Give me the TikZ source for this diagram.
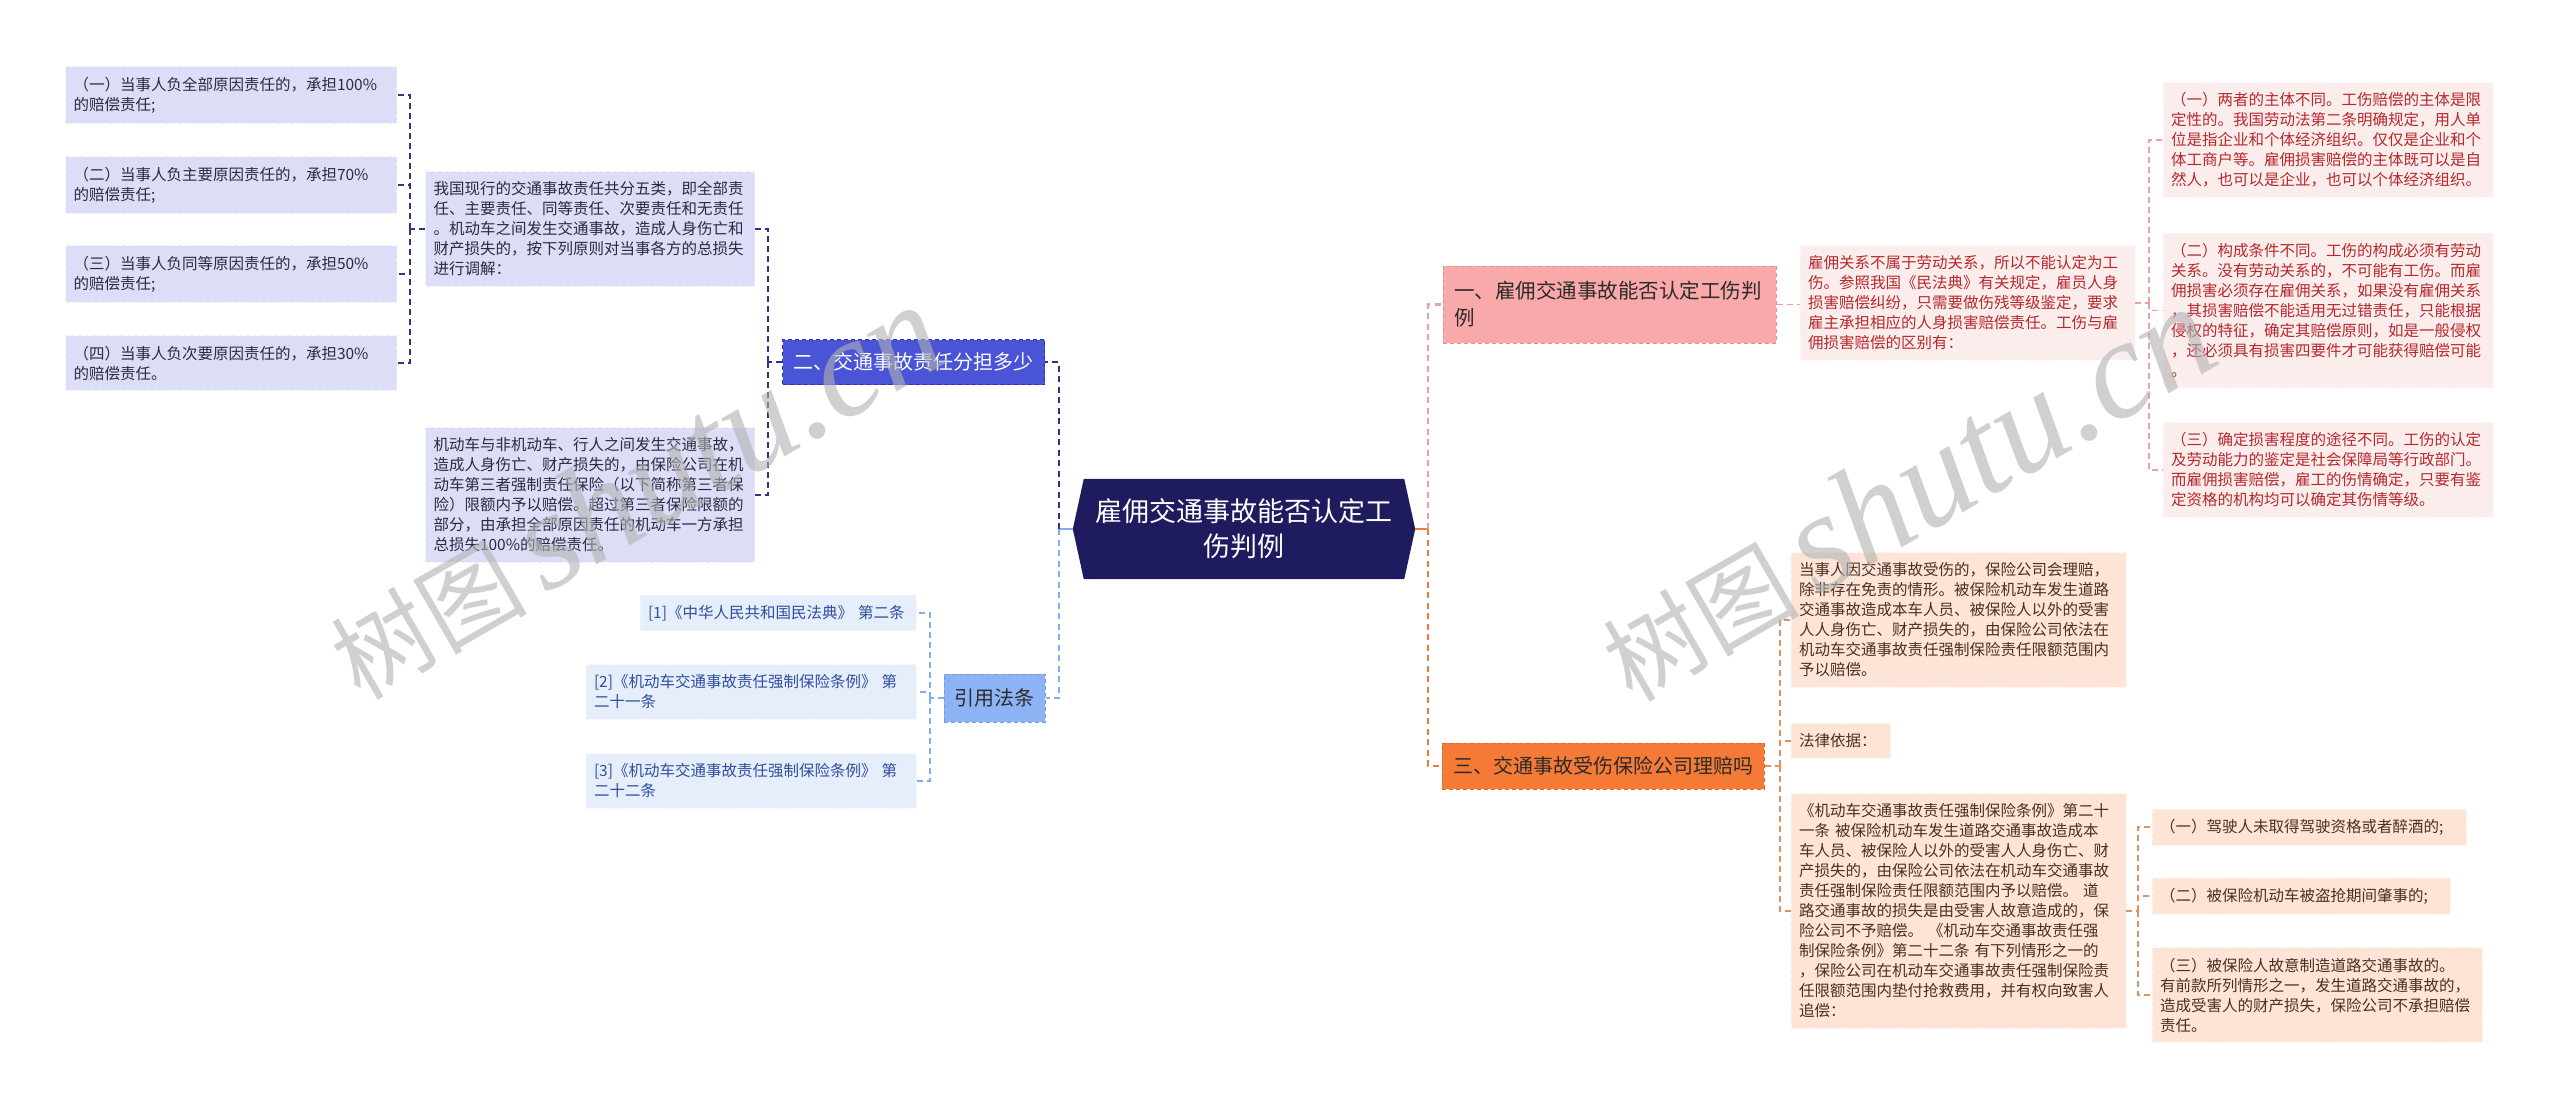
\documentclass[tikz,border=0pt]{standalone}
\usepackage{fontspec}
\setmainfont{Noto Sans CJK SC}
\newfontfamily\wmfont{Liberation Serif}
\usetikzlibrary{backgrounds}
\definecolor{lavfill}{HTML}{DCDDF7}
\definecolor{lavtext}{HTML}{2A2A42}
\definecolor{bluebr}{HTML}{4A54D6}
\definecolor{blueedge}{HTML}{2F36A8}
\definecolor{rootfill}{HTML}{1E1B5E}
\definecolor{citefill}{HTML}{E6EEFC}
\definecolor{citetext}{HTML}{2E4E9E}
\definecolor{citebr}{HTML}{8DB3F5}
\definecolor{citeedge}{HTML}{6F9BE8}
\definecolor{pinkbr}{HTML}{F9A9A9}
\definecolor{pinkedge}{HTML}{E88F8F}
\definecolor{pinkfill}{HTML}{FCEDED}
\definecolor{redtext}{HTML}{B5282C}
\definecolor{orangebr}{HTML}{F57A36}
\definecolor{orangeedge}{HTML}{E0662A}
\definecolor{peachfill}{HTML}{FDE4D6}
\definecolor{browntext}{HTML}{4B3022}
\definecolor{navyline}{HTML}{2E3384}
\definecolor{lbline}{HTML}{85ACF0}
\definecolor{pinkline}{HTML}{E9A3A3}
\definecolor{orangeline}{HTML}{EE7B3B}
\definecolor{peachline}{HTML}{E0935F}
\definecolor{darktext}{HTML}{2B2B2B}
\tikzset{
  txtbox/.style={inner xsep=8pt, inner ysep=10pt, align=left,
    font=\fontsize{15.5pt}{20pt}\selectfont, line width=0.8pt,
    dash pattern=on 4pt off 3pt},
  lavbox/.style={txtbox, fill=lavfill, draw=lavfill!55!white, text=lavtext},
  citebox/.style={txtbox, fill=citefill, draw=citefill!50!white, text=citetext},
  pinkbox/.style={txtbox, fill=pinkfill, draw=pinkfill!50!white, text=redtext},
  peachbox/.style={txtbox, fill=peachfill, draw=peachfill!50!white, text=browntext},
  branchbox/.style={inner xsep=11pt, inner ysep=8pt, align=left,
    font=\fontsize{20pt}{27pt}\selectfont, line width=1pt,
    dash pattern=on 4pt off 3pt},
  conn/.style={line width=2.2pt, dash pattern=on 6pt off 4.5pt},
  subconn/.style={line width=1.4pt, dash pattern=on 6pt off 4pt},
  stub/.style={line width=2.2pt},
  wm/.style={text=black!30, text opacity=0.6, rotate=30, anchor=base west, inner sep=0pt}
}
\begin{document}
\begin{tikzpicture}[x=1pt,y=-1pt]
\useasboundingbox (0,0) rectangle (2560,1111);

% root
\node[minimum width=342pt, minimum height=100pt, inner sep=0pt, align=center,
  text=white, font=\fontsize{27pt}{35pt}\selectfont] (root) at (1244,529)
  {雇佣交通事故能否认定工\\伤判例};
\begin{scope}[on background layer]
\fill[white] (0,0) rectangle (2560,1111);
\fill[rootfill] (root.west) -- ([xshift=11pt]root.north west) -- ([xshift=-11pt]root.north east)
  -- (root.east) -- ([xshift=-11pt]root.south east) -- ([xshift=11pt]root.south west) -- cycle;
\end{scope}

% left branch 2
\node[branchbox, fill=bluebr, draw=blueedge, text=white, minimum height=45pt] (b2) at (913.5,362) {二、交通事故责任分担多少};
\node[lavbox, text width=313pt] (m1) at (590,229) {我国现行的交通事故责任共分五类，即全部责\\任、主要责任、同等责任、次要责任和无责任\\。机动车之间发生交通事故，造成人身伤亡和\\财产损失的，按下列原则对当事各方的总损失\\进行调解：};
\node[lavbox, text width=313pt] (m2) at (590,495) {机动车与非机动车、行人之间发生交通事故，\\造成人身伤亡、财产损失的，由保险公司在机\\动车第三者强制责任保险（以下简称第三者保\\险）限额内予以赔偿。超过第三者保险限额的\\部分，由承担全部原因责任的机动车一方承担\\总损失100\%的赔偿责任。};
\node[lavbox, text width=315pt] (l1) at (231,95) {（一）当事人负全部原因责任的，承担100\%\\的赔偿责任;};
\node[lavbox, text width=315pt] (l2) at (231,185) {（二）当事人负主要原因责任的，承担70\%\\的赔偿责任;};
\node[lavbox, text width=315pt] (l3) at (231,274) {（三）当事人负同等原因责任的，承担50\%\\的赔偿责任;};
\node[lavbox, text width=315pt] (l4) at (231,363) {（四）当事人负次要原因责任的，承担30\%\\的赔偿责任。};

% citations
\node[branchbox, fill=citebr, draw=citeedge, text=darktext, minimum width=101pt, minimum height=48pt, inner xsep=0pt, align=center] (cite) at (994.5,698) {引用法条};
\node[citebox, text width=260pt] (c1) at (778,613) {[1]《中华人民共和国民法典》 第二条};
\node[citebox, text width=314pt] (c2) at (751,692) {[2]《机动车交通事故责任强制保险条例》 第\\二十一条};
\node[citebox, text width=314pt] (c3) at (751,781) {[3]《机动车交通事故责任强制保险条例》 第\\二十二条};

% right branch 1
\node[branchbox, fill=pinkbr, draw=pinkedge, text=darktext, text width=311pt, minimum height=77pt, font=\fontsize{20.5pt}{27pt}\selectfont] (b1) at (1609.5,304.5) {一、雇佣交通事故能否认定工伤判\\例};
\node[pinkbox, text width=319pt] (r1) at (1967.5,303) {雇佣关系不属于劳动关系，所以不能认定为工\\伤。参照我国《民法典》有关规定，雇员人身\\损害赔偿纠纷，只需要做伤残等级鉴定，要求\\雇主承担相应的人身损害赔偿责任。工伤与雇\\佣损害赔偿的区别有：};
\node[pinkbox, text width=314pt] (r1a) at (2328,140) {（一）两者的主体不同。工伤赔偿的主体是限\\定性的。我国劳动法第二条明确规定，用人单\\位是指企业和个体经济组织。仅仅是企业和个\\体工商户等。雇佣损害赔偿的主体既可以是自\\然人，也可以是企业，也可以个体经济组织。};
\node[pinkbox, text width=314pt] (r1b) at (2328,310.5) {（二）构成条件不同。工伤的构成必须有劳动\\关系。没有劳动关系的，不可能有工伤。而雇\\佣损害必须存在雇佣关系，如果没有雇佣关系\\，其损害赔偿不能适用无过错责任，只能根据\\侵权的特征，确定其赔偿原则，如是一般侵权\\，还必须具有损害四要件才可能获得赔偿可能\\。};
\node[pinkbox, text width=314pt] (r1c) at (2328,470) {（三）确定损害程度的途径不同。工伤的认定\\及劳动能力的鉴定是社会保障局等行政部门。\\而雇佣损害赔偿，雇工的伤情确定，只要有鉴\\定资格的机构均可以确定其伤情等级。};

% right branch 3
\node[branchbox, fill=orangebr, draw=orangeedge, text=darktext, minimum width=320pt, minimum height=46pt] (b3) at (1603,766) {三、交通事故受伤保险公司理赔吗};
\node[peachbox, text width=319pt] (r3a) at (1958.5,620) {当事人因交通事故受伤的，保险公司会理赔，\\除非存在免责的情形。被保险机动车发生道路\\交通事故造成本车人员、被保险人以外的受害\\人人身伤亡、财产损失的，由保险公司依法在\\机动车交通事故责任强制保险责任限额范围内\\予以赔偿。};
\node[peachbox, text width=83pt] (r3b) at (1840.5,741) {法律依据：};
\node[peachbox, text width=319pt] (r3c) at (1958.5,911) {《机动车交通事故责任强制保险条例》第二十\\一条 被保险机动车发生道路交通事故造成本\\车人员、被保险人以外的受害人人身伤亡、财\\产损失的，由保险公司依法在机动车交通事故\\责任强制保险责任限额范围内予以赔偿。 道\\路交通事故的损失是由受害人故意造成的，保\\险公司不予赔偿。 《机动车交通事故责任强\\制保险条例》第二十二条 有下列情形之一的\\，保险公司在机动车交通事故责任强制保险责\\任限额范围内垫付抢救费用，并有权向致害人\\追偿：};
\node[peachbox, text width=298pt] (r3c1) at (2309,827) {（一）驾驶人未取得驾驶资格或者醉酒的;};
\node[peachbox, text width=282pt] (r3c2) at (2301,896) {（二）被保险机动车被盗抢期间肇事的;};
\node[peachbox, text width=314pt] (r3c3) at (2317,995) {（三）被保险人故意制造道路交通事故的。\\有前款所列情形之一，发生道路交通事故的，\\造成受害人的财产损失，保险公司不承担赔偿\\责任。};

% junction points
\coordinate (jl) at (1059,529);
\coordinate (jr) at (1428,529);
\coordinate (jb2) at (768,362);
\coordinate (jm1) at (410,229);
\coordinate (jc) at (930,698);
\coordinate (jr1) at (2149,303);
\coordinate (jb3) at (1780,766);
\coordinate (jr3) at (2138,911);

% connectors from root
\draw[stub, lbline] (root.west) -- (jl);
\draw[stub, orangeline] (root.east) -- (jr);
\draw[conn, navyline] (jl) |- (b2.east);
\draw[conn, lbline] (jl) |- (cite.east);
\draw[conn, pinkline] (jr) |- (b1.west);
\draw[conn, orangeline] (jr) |- (b3.west);

% branch 2 subtree
\draw[subconn, navyline] (b2.west) -- (jb2);
\draw[subconn, navyline] (jb2) |- (m1.east);
\draw[subconn, navyline] (jb2) |- (m2.east);
\draw[subconn, navyline] (m1.west) -- (jm1);
\draw[subconn, navyline] (jm1) |- (l1.east);
\draw[subconn, navyline] (jm1) |- (l2.east);
\draw[subconn, navyline] (jm1) |- (l3.east);
\draw[subconn, navyline] (jm1) |- (l4.east);

% citation subtree
\draw[subconn, lbline] (cite.west) -- (jc);
\draw[subconn, lbline] (jc) |- (c1.east);
\draw[subconn, lbline] (jc) |- (c2.east);
\draw[subconn, lbline] (jc) |- (c3.east);

% branch 1 subtree
\draw[subconn, pinkline] (b1.east) -- (b1.east -| r1.west);
\draw[subconn, pinkline] (r1.east) -- (jr1);
\draw[subconn, pinkline] (jr1) |- (r1a.west);
\draw[subconn, pinkline] (jr1) |- (r1b.west);
\draw[subconn, pinkline] (jr1) |- (r1c.west);

% branch 3 subtree
\draw[subconn, peachline] (b3.east) -- (jb3);
\draw[subconn, peachline] (jb3) |- (r3a.west);
\draw[subconn, peachline] (jb3) |- (r3b.west);
\draw[subconn, peachline] (jb3) |- (r3c.west);
\draw[subconn, peachline] (r3c.east) -- (jr3);
\draw[subconn, peachline] (jr3) |- (r3c1.west);
\draw[subconn, peachline] (jr3) |- (r3c2.west);
\draw[subconn, peachline] (jr3) |- (r3c3.west);

% watermarks
\node[wm] (wm1) at (360,702) {{\fontsize{98pt}{98pt}\selectfont 树图}\hspace{18pt}{\wmfont\itshape\fontsize{140pt}{140pt}\selectfont shutu.cn}};
\node[wm] (wm2) at (1632,704) {{\fontsize{98pt}{98pt}\selectfont 树图}\hspace{18pt}{\wmfont\itshape\fontsize{140pt}{140pt}\selectfont shutu.cn}};
\end{tikzpicture}
\end{document}
